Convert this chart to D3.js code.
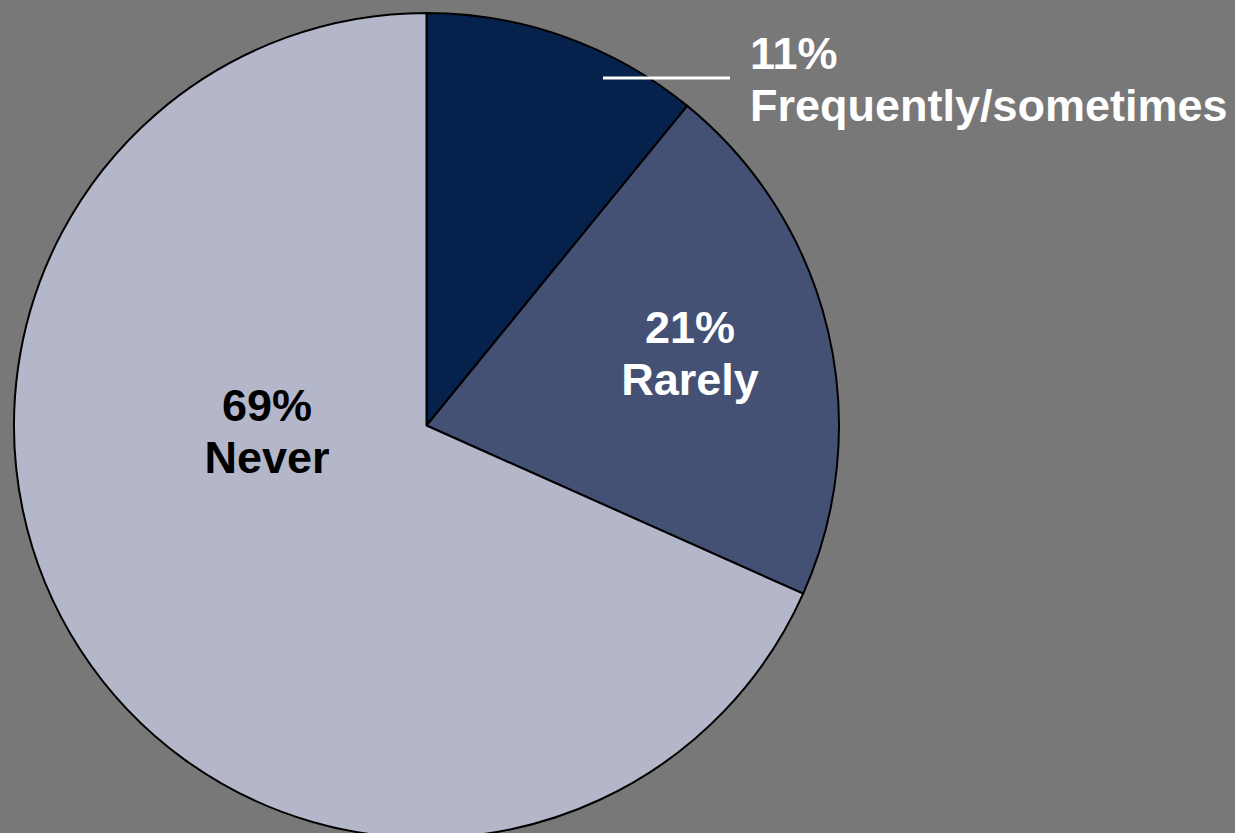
<!DOCTYPE html>
<html><head><meta charset="utf-8">
<script src="https://cdn.jsdelivr.net/npm/d3@7"></script>
<style>html,body{margin:0;padding:0;background:#787878;overflow:hidden}</style>
</head><body>
<svg id="c" width="1235" height="833"></svg>
<script>
const categories = ["Frequently/sometimes", "Rarely", "Never"];
const values = [11, 21, 69];
const pctLabels = ["11%", "21%", "69%"];
const colors = ["#06214b", "#445174", "#b4b6c9"];
const textColors = ["#ffffff", "#ffffff", "#000000"];

const svg = d3.select("#c");
const cx = 426.5, cy = 425.5, r = 412.5;
const g = svg.append("g").attr("transform", `translate(${cx},${cy})`);
const pie = d3.pie().sort(null).value(d => d)(values);
const arc = d3.arc().innerRadius(0).outerRadius(r);
g.selectAll("path").data(pie).join("path")
  .attr("d", arc).attr("fill", (d,i) => colors[i])
  .attr("stroke", "#000").attr("stroke-width", 2).attr("stroke-linejoin", "round");

const font = "'Liberation Sans', Arial, sans-serif";
const fs = 45;
const inside = [
  {i:1, x:690, y:343},
  {i:2, x:267, y:421}
];
inside.forEach(o => {
  const t = svg.append("text").attr("text-anchor","middle")
    .attr("font-family", font).attr("font-weight","bold").attr("font-size", fs)
    .attr("fill", textColors[o.i]);
  t.append("tspan").attr("x", o.x).attr("y", o.y).text(pctLabels[o.i]);
  t.append("tspan").attr("x", o.x).attr("y", o.y + 52).text(categories[o.i]);
});
svg.append("line").attr("x1", 603).attr("x2", 730).attr("y1", 78).attr("y2", 78)
  .attr("stroke", "#fff").attr("stroke-width", 3);
const t0 = svg.append("text").attr("font-family", font).attr("font-weight","bold")
  .attr("font-size", fs).attr("fill", textColors[0]);
t0.append("tspan").attr("x", 750).attr("y", 69).text(pctLabels[0]);
t0.append("tspan").attr("x", 750).attr("y", 121).text(categories[0]);
</script>
</body></html>
